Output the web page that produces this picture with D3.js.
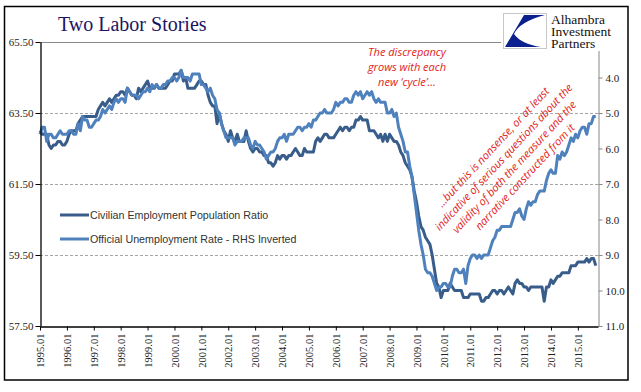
<!DOCTYPE html>
<html>
<head>
<meta charset="utf-8">
<script src="https://cdn.jsdelivr.net/npm/d3@7"></script>
<style>
  body { margin: 0; background: #fff; }
  svg { display: block; }
</style>
</head>
<body>
<svg id="chart" width="641" height="392"></svg>
<script>
// monthly, 1995.01 .. 2015.09
const empRatio = [
  63.0, 62.9, 62.9, 62.9, 62.6, 62.5, 62.6, 62.6, 62.7, 62.7, 62.6, 62.6, // 1995
  62.7, 62.9, 63.0, 63.0, 63.0, 63.2, 63.3, 63.4, 63.4, 63.4, 63.4, 63.4, // 1996
  63.4, 63.4, 63.6, 63.7, 63.8, 63.7, 63.8, 63.9, 63.8, 63.9, 64.0, 64.0, // 1997
  64.1, 64.1, 64.0, 64.2, 64.1, 64.0, 64.0, 63.9, 64.2, 64.1, 64.2, 64.3, // 1998
  64.4, 64.2, 64.2, 64.2, 64.3, 64.2, 64.2, 64.2, 64.2, 64.3, 64.4, 64.4, // 1999
  64.6, 64.6, 64.6, 64.7, 64.4, 64.5, 64.2, 64.2, 64.2, 64.2, 64.3, 64.4, // 2000
  64.4, 64.3, 64.3, 64.0, 63.8, 63.7, 63.7, 63.2, 63.5, 63.2, 63.0, 62.9, // 2001
  62.7, 63.0, 62.8, 62.7, 62.9, 62.7, 62.7, 62.7, 63.0, 62.7, 62.5, 62.4, // 2002
  62.5, 62.5, 62.4, 62.4, 62.3, 62.3, 62.1, 62.1, 62.0, 62.1, 62.3, 62.2, // 2003
  62.3, 62.3, 62.2, 62.3, 62.3, 62.4, 62.5, 62.4, 62.3, 62.3, 62.5, 62.4, // 2004
  62.4, 62.4, 62.4, 62.7, 62.8, 62.7, 62.8, 62.9, 62.9, 62.8, 62.8, 62.8, // 2005
  62.9, 63.0, 63.1, 63.0, 63.1, 63.1, 63.0, 63.1, 63.1, 63.3, 63.3, 63.4, // 2006
  63.3, 63.3, 63.3, 63.0, 63.0, 63.0, 62.9, 62.8, 62.9, 62.7, 62.9, 62.7, // 2007
  62.9, 62.8, 62.7, 62.7, 62.6, 62.4, 62.3, 62.1, 62.0, 61.9, 61.7, 61.3, // 2008
  61.0, 60.6, 60.3, 60.2, 60.0, 59.9, 59.8, 59.5, 59.1, 58.7, 58.6, 58.3, // 2009
  58.5, 58.5, 58.5, 58.7, 58.6, 58.5, 58.5, 58.5, 58.5, 58.3, 58.3, 58.3, // 2010
  58.4, 58.4, 58.4, 58.4, 58.4, 58.2, 58.2, 58.3, 58.3, 58.4, 58.5, 58.5, // 2011
  58.4, 58.5, 58.5, 58.4, 58.5, 58.6, 58.5, 58.4, 58.7, 58.8, 58.7, 58.7, // 2012
  58.6, 58.6, 58.5, 58.6, 58.6, 58.6, 58.6, 58.6, 58.6, 58.2, 58.6, 58.6, // 2013
  58.8, 58.7, 58.8, 58.9, 58.9, 59.0, 59.0, 59.0, 59.0, 59.2, 59.2, 59.2, // 2014
  59.3, 59.3, 59.3, 59.3, 59.4, 59.3, 59.4, 59.4, 59.2                    // 2015
];
const unempRate = [
  5.6, 5.4, 5.4, 5.8, 5.6, 5.6, 5.7, 5.7, 5.6, 5.5, 5.6, 5.6, // 1995
  5.6, 5.5, 5.5, 5.6, 5.6, 5.3, 5.5, 5.1, 5.2, 5.2, 5.4, 5.4, // 1996
  5.3, 5.2, 5.2, 5.1, 4.9, 5.0, 4.9, 4.8, 4.9, 4.7, 4.6, 4.7, // 1997
  4.6, 4.6, 4.7, 4.3, 4.4, 4.5, 4.5, 4.5, 4.6, 4.5, 4.4, 4.4, // 1998
  4.3, 4.4, 4.2, 4.3, 4.2, 4.3, 4.3, 4.2, 4.2, 4.1, 4.1, 4.0, // 1999
  4.0, 4.1, 4.0, 3.8, 4.0, 4.0, 4.0, 4.1, 3.9, 3.9, 3.9, 3.9, // 2000
  4.2, 4.2, 4.3, 4.4, 4.3, 4.5, 4.6, 4.9, 5.0, 5.3, 5.5, 5.7, // 2001
  5.7, 5.7, 5.7, 5.9, 5.8, 5.8, 5.8, 5.7, 5.7, 5.7, 5.9, 6.0, // 2002
  5.8, 5.9, 5.9, 6.0, 6.1, 6.3, 6.2, 6.1, 6.1, 6.0, 5.8, 5.7, // 2003
  5.7, 5.6, 5.8, 5.6, 5.6, 5.6, 5.5, 5.4, 5.4, 5.5, 5.4, 5.4, // 2004
  5.3, 5.4, 5.2, 5.2, 5.1, 5.0, 5.0, 4.9, 5.0, 5.0, 5.0, 4.9, // 2005
  4.7, 4.8, 4.7, 4.7, 4.6, 4.6, 4.7, 4.7, 4.5, 4.4, 4.5, 4.4, // 2006
  4.6, 4.5, 4.4, 4.5, 4.4, 4.6, 4.7, 4.6, 4.7, 4.7, 4.7, 5.0, // 2007
  5.0, 4.9, 5.1, 5.0, 5.4, 5.6, 5.8, 6.1, 6.1, 6.5, 6.8, 7.3, // 2008
  7.8, 8.3, 8.7, 9.0, 9.4, 9.5, 9.5, 9.6, 9.8, 10.0, 9.9, 9.9, // 2009
  9.8, 9.8, 9.9, 9.9, 9.6, 9.4, 9.4, 9.5, 9.5, 9.4, 9.8, 9.3, // 2010
  9.1, 9.0, 9.0, 9.1, 9.0, 9.1, 9.0, 9.0, 9.0, 8.8, 8.6, 8.5, // 2011
  8.3, 8.3, 8.2, 8.2, 8.2, 8.2, 8.2, 8.0, 7.8, 7.8, 7.7, 7.9, // 2012
  8.0, 7.7, 7.5, 7.6, 7.5, 7.5, 7.3, 7.2, 7.2, 7.2, 6.9, 6.7, // 2013
  6.6, 6.7, 6.7, 6.2, 6.3, 6.1, 6.2, 6.1, 5.9, 5.7, 5.8, 5.6, // 2014
  5.7, 5.5, 5.4, 5.4, 5.6, 5.3, 5.3, 5.1, 5.1                 // 2015
];
const leftTicks = [57.5, 59.5, 61.5, 63.5, 65.5];
const rightTicks = [4, 5, 6, 7, 8, 9, 10, 11];
const yearLabels = ['1995.01', '1996.01', '1997.01', '1998.01', '1999.01', '2000.01', '2001.01',
  '2002.01', '2003.01', '2004.01', '2005.01', '2006.01', '2007.01', '2008.01', '2009.01',
  '2010.01', '2011.01', '2012.01', '2013.01', '2014.01', '2015.01'];
const seriesNames = ['Civilian Employment Population Ratio', 'Official Unemployment Rate - RHS Inverted'];
const noteTop = ['The discrepancy', 'grows with each', 'new \u2018cycle\u2019\u2026'];
const noteSlant = ['\u2026but this is nonsense, or at least', 'indicative of serious questions about the',
  'validity of both the measure and the', 'narrative constructed from it'];
const logoLines = ['Alhambra', 'Investment', 'Partners'];

const DARK = '#385d8a', LIGHT = '#4f81bd', RED = '#e2231a';
const serif = '"Liberation Serif", "Times New Roman", serif';

const svg = d3.select('#chart');
const L = 40, R = 598, T = 42, B = 326;

const x = d3.scaleLinear().domain([0, 249]).range([L, R]);
const yL = d3.scaleLinear().domain([57.5, 65.5]).range([B, T]);
const yR = d3.scaleLinear().domain([3, 11]).range([T, B]);

// outer frame
svg.append('rect').attr('x', 4.5).attr('y', 6.5).attr('width', 623.5).attr('height', 373.5)
  .attr('fill', '#fff').attr('stroke', '#000').attr('stroke-width', 1.5);

// title
svg.append('text').attr('x', 58).attr('y', 31)
  .attr('font-family', serif).attr('font-size', 20).attr('fill', '#1b1464')
  .text('Two Labor Stories');

// grid
svg.append('g').selectAll('line')
  .data(leftTicks.slice(1, -1))
  .enter().append('line')
  .attr('x1', L).attr('x2', R)
  .attr('y1', d => Math.round(yL(d)) + 0.5).attr('y2', d => Math.round(yL(d)) + 0.5)
  .attr('stroke', '#a6a6a6').attr('stroke-dasharray', '3,2');
svg.append('line').attr('x1', L).attr('x2', R).attr('y1', T + 0.5).attr('y2', T + 0.5)
  .attr('stroke', '#888');

// series
const lineL = d3.line().x((d, i) => x(i)).y(d => yL(d));
const lineR = d3.line().x((d, i) => x(i)).y(d => yR(d));
svg.append('path').datum(empRatio).attr('d', lineL)
  .attr('fill', 'none').attr('stroke', DARK).attr('stroke-width', 3).attr('stroke-linejoin', 'round');
svg.append('path').datum(unempRate).attr('d', lineR)
  .attr('fill', 'none').attr('stroke', LIGHT).attr('stroke-width', 3).attr('stroke-linejoin', 'round');

// axes
const gl = svg.append('g').attr('transform', `translate(${L + 0.5},0)`)
  .call(d3.axisLeft(yL).tickValues(leftTicks).tickFormat(d3.format('.2f')).tickSize(5).tickSizeOuter(0));
gl.select('.domain').attr('stroke', '#000').attr('stroke-width', 1.3);
gl.selectAll('.tick line').attr('stroke', '#000');
gl.selectAll('.tick text').attr('font-family', serif).attr('font-size', 11).attr('fill', '#222').attr('x', -7);

const gr = svg.append('g').attr('transform', `translate(${R + 0.5},0)`)
  .call(d3.axisRight(yR).tickValues(rightTicks).tickFormat(d3.format('.1f')).tickSize(4).tickSizeOuter(0));
gr.select('.domain').attr('stroke', '#888');
gr.selectAll('.tick line').attr('stroke', '#888');
gr.selectAll('.tick text').attr('font-family', serif).attr('font-size', 11).attr('fill', '#222').attr('x', 7);

const gb = svg.append('g').attr('transform', `translate(0,${B + 0.5})`)
  .call(d3.axisBottom(x).tickValues(d3.range(0, 241, 12)).tickFormat((d, i) => yearLabels[i])
    .tickSize(4).tickSizeOuter(0));
gb.select('.domain').attr('stroke', '#000').attr('stroke-width', 1.3);
gb.selectAll('.tick line').attr('stroke', '#000');
gb.selectAll('.tick text')
  .attr('font-family', serif).attr('font-size', 10.5).attr('fill', '#222')
  .attr('text-anchor', 'end').attr('transform', 'rotate(-90)')
  .attr('x', -7).attr('y', 0).attr('dy', '0.35em');

// legend
const lg = svg.append('g').selectAll('g').data(seriesNames).enter().append('g')
  .attr('transform', (d, i) => `translate(60,${215 + i * 24})`);
lg.append('line').attr('x1', 0).attr('x2', 29).attr('stroke-width', 3)
  .attr('stroke', (d, i) => i ? LIGHT : DARK);
lg.append('text').attr('x', 30).attr('y', 4)
  .attr('font-family', '"Liberation Sans", Arial, sans-serif').attr('font-size', 10.7)
  .attr('fill', '#333').text(d => d);

// annotations
svg.append('g').selectAll('text').data(noteTop).enter().append('text')
  .attr('x', 407).attr('y', (d, i) => 56 + i * 15)
  .attr('text-anchor', 'middle').attr('font-family', '"Open Sans", sans-serif')
  .attr('font-style', 'italic').attr('font-size', 11).attr('fill', RED).text(d => d);

svg.append('g').attr('transform', 'translate(509,162) rotate(-47)')
  .selectAll('text').data(noteSlant).enter().append('text')
  .attr('x', 0).attr('y', (d, i) => (i - 1.5) * 14.5).attr('dy', '0.35em')
  .attr('text-anchor', 'middle').attr('font-family', '"Open Sans", sans-serif')
  .attr('font-style', 'italic').attr('font-size', 11).attr('fill', RED).text(d => d);

// logo
svg.append('rect').attr('x', 501).attr('y', 9).attr('width', 124).attr('height', 42).attr('fill', '#fff');
svg.append('rect').attr('x', 503.5).attr('y', 13.5).attr('width', 43).attr('height', 35)
  .attr('fill', '#fff').attr('stroke', '#c8c8c8');
svg.append('path')
  .attr('d', 'M524,15 L545,15 Q519,22 514,34 Q521,44 541,47 L505,47 Z')
  .attr('fill', '#0b1f8f');
svg.append('g').selectAll('text').data(logoLines).enter().append('text')
  .attr('x', 551).attr('y', (d, i) => 23.5 + i * 12)
  .attr('font-family', serif).attr('font-size', 13.5).attr('fill', '#111').text(d => d);
</script>
</body>
</html>
